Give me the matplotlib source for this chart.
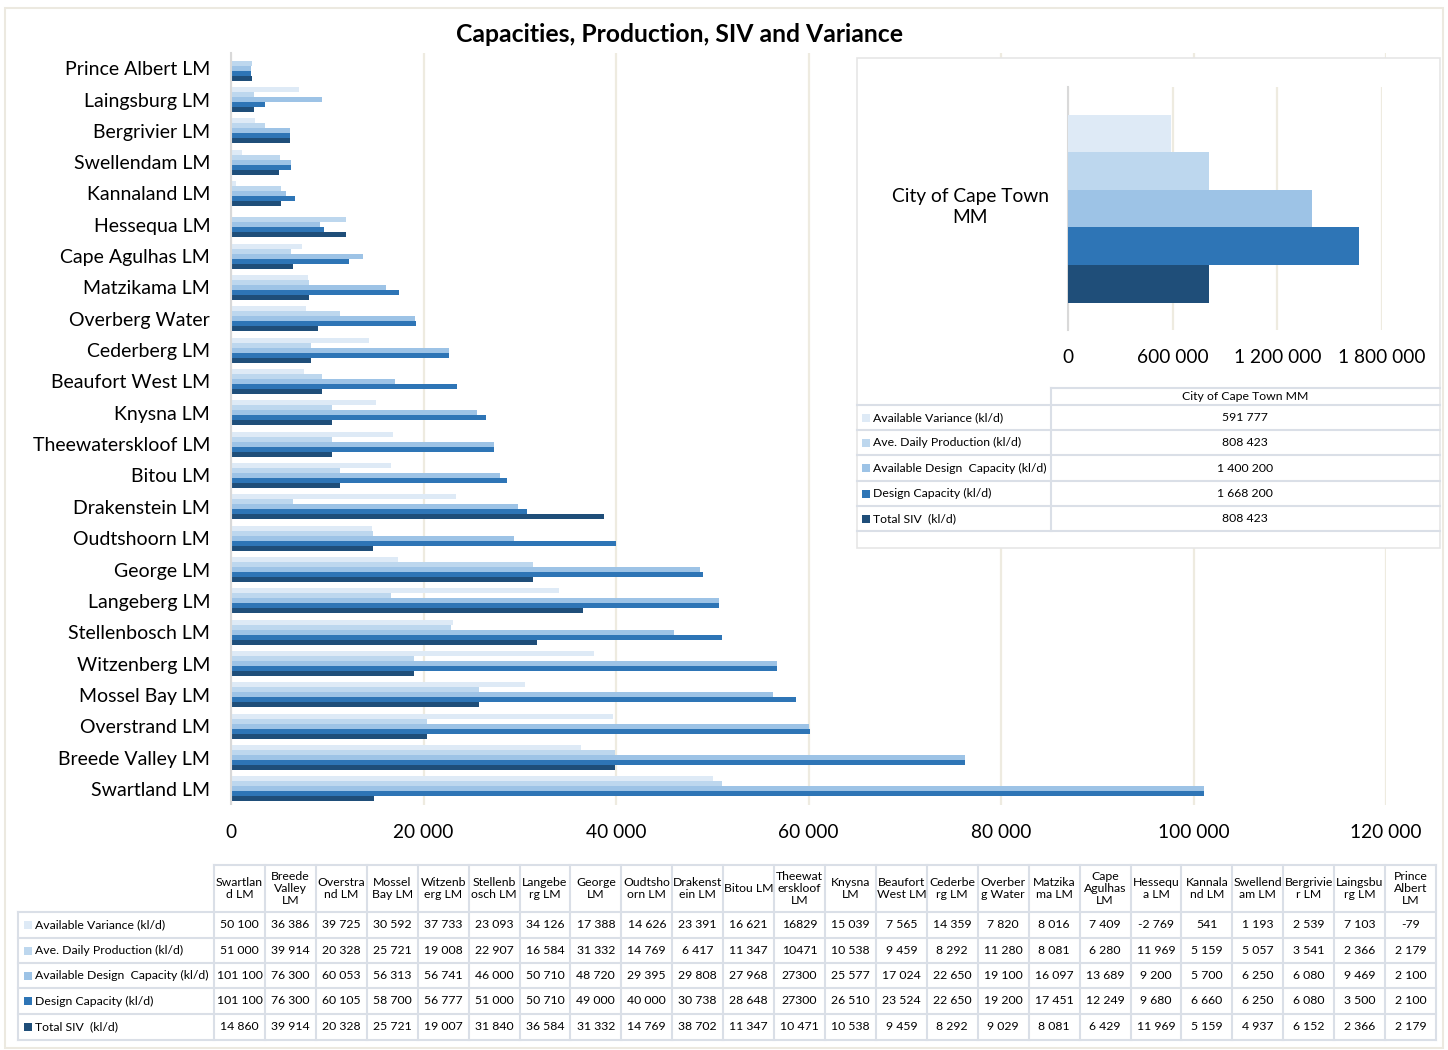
import matplotlib
matplotlib.use('Agg')
import matplotlib.pyplot as plt
from matplotlib.patches import Rectangle
from matplotlib.ticker import FuncFormatter
import numpy as np

plt.rcParams['font.family'] = ['Lato', 'DejaVu Sans']

# ---------------- data ----------------
categories = ["Swartland LM", "Breede Valley LM", "Overstrand LM", "Mossel Bay LM",
              "Witzenberg LM", "Stellenbosch LM", "Langeberg LM", "George LM",
              "Oudtshoorn LM", "Drakenstein LM", "Bitou LM", "Theewaterskloof LM",
              "Knysna LM", "Beaufort West LM", "Cederberg LM", "Overberg Water",
              "Matzikama LM", "Cape Agulhas LM", "Hessequa LM", "Kannaland LM",
              "Swellendam LM", "Bergrivier LM", "Laingsburg LM", "Prince Albert LM"]
table_headers = ["Swartlan\nd LM", "Breede\nValley\nLM", "Overstra\nnd LM", "Mossel\nBay LM",
                 "Witzenb\nerg LM", "Stellenb\nosch LM", "Langebe\nrg LM", "George\nLM",
                 "Oudtsho\norn LM", "Drakenst\nein LM", "Bitou LM", "Theewat\nerskloof\nLM",
                 "Knysna\nLM", "Beaufort\nWest LM", "Cederbe\nrg LM", "Overber\ng Water",
                 "Matzika\nma LM", "Cape\nAgulhas\nLM", "Hessequ\na LM", "Kannala\nnd LM",
                 "Swellend\nam LM", "Bergrivie\nr LM", "Laingsbu\nrg LM", "Prince\nAlbert\nLM"]

series_names = ["Available Variance (kl/d)", "Ave. Daily Production (kl/d)",
                "Available Design  Capacity (kl/d)", "Design Capacity (kl/d)", "Total SIV  (kl/d)"]

available_variance = [50100, 36386, 39725, 30592, 37733, 23093, 34126, 17388, 14626, 23391, 16621, 16829,
                      15039, 7565, 14359, 7820, 8016, 7409, -2769, 541, 1193, 2539, 7103, -79]
ave_daily_production = [51000, 39914, 20328, 25721, 19008, 22907, 16584, 31332, 14769, 6417, 11347, 10471,
                        10538, 9459, 8292, 11280, 8081, 6280, 11969, 5159, 5057, 3541, 2366, 2179]
available_design_capacity = [101100, 76300, 60053, 56313, 56741, 46000, 50710, 48720, 29395, 29808, 27968, 27300,
                             25577, 17024, 22650, 19100, 16097, 13689, 9200, 5700, 6250, 6080, 9469, 2100]
design_capacity = [101100, 76300, 60105, 58700, 56777, 51000, 50710, 49000, 40000, 30738, 28648, 27300,
                   26510, 23524, 22650, 19200, 17451, 12249, 9680, 6660, 6250, 6080, 3500, 2100]
total_siv = [14860, 39914, 20328, 25721, 19007, 31840, 36584, 31332, 14769, 38702, 11347, 10471,
             10538, 9459, 8292, 9029, 8081, 6429, 11969, 5159, 4937, 6152, 2366, 2179]

cape_town_label = "City of Cape Town MM"
cape_town_values = [591777, 808423, 1400200, 1668200, 808423]

main_ticks = [0, 20000, 40000, 60000, 80000, 100000, 120000]
inset_ticks = [0, 600000, 1200000, 1800000]

# cells shown without thousands separator in the source table (series index, column index)
plain_cells = {(0, 11), (1, 11), (2, 11), (3, 11)}

colors = ['#DEEAF6', '#BDD7EE', '#9DC3E6', '#2E75B6', '#1F4E79']
grid_c = '#EEEBE0'
border_c = '#DADFE7'

series = [available_variance, ave_daily_production, available_design_capacity,
          design_capacity, total_siv]


def fmt(v, plain=False):
    s = f"{abs(v):,}"
    s = s.replace(",", "" if plain else " ")
    return ("-" if v < 0 else "") + s


W, H = 1448, 1050
fig = plt.figure(figsize=(W / 100, H / 100), dpi=100)
fig.patch.set_facecolor('white')


def fx(px):
    return px / W


def fy(py):
    return 1 - py / H


# ---------------- main chart ----------------
ax = fig.add_axes([fx(231), fy(804.5), fx(1386) - fx(231), (804.5 - 52.5) / H], zorder=1)
n = len(categories)
y = np.arange(n)
h = 0.16
offsets = [2 * h, h, 0, -h, -2 * h]
for vals, off, c in zip(series, offsets, colors):
    ax.barh(y + off, vals, height=h * 0.97, color=c, edgecolor='none', zorder=3)
ax.set_xlim(main_ticks[0], main_ticks[-1])
ax.set_ylim(-0.5, n - 0.5)
ax.set_xticks(main_ticks)
ax.xaxis.set_major_formatter(FuncFormatter(lambda v, p: fmt(int(v))))
ax.set_yticks(y)
ax.set_yticklabels(categories, fontsize=14)
ax.tick_params(axis='y', length=0, pad=15)
ax.tick_params(axis='x', length=0, pad=14, labelsize=13.8)
for s in ['top', 'right', 'bottom']:
    ax.spines[s].set_visible(False)
ax.spines['left'].set_color('#D9D9D9')
ax.spines['left'].set_linewidth(1.5)
ax.spines['left'].set_zorder(4)
ax.grid(axis='x', color=grid_c, linewidth=1.6, zorder=0)
ax.set_axisbelow(True)

# title
fig.text(fx(680), fy(35), "Capacities, Production, SIV and Variance",
         ha='center', va='center', fontsize=17.8, fontweight='bold')

# ---------------- overlay for panels / tables ----------------
ov = fig.add_axes([0, 0, 1, 1], zorder=5)
ov.set_xlim(0, W)
ov.set_ylim(H, 0)
ov.axis('off')
ov.patch.set_alpha(0)

# outer border
ov.add_patch(Rectangle((5, 8), 1438, 1040, facecolor='none', edgecolor='#ECE9E0', lw=1.5))

# inset panel background
ov.add_patch(Rectangle((857, 58), 583, 490, facecolor='white', edgecolor='#E6E6E6', lw=1.2))

# ---------------- inset chart ----------------
ax2 = fig.add_axes([fx(1068), fy(330), fx(1382) - fx(1068), (330 - 87) / H], zorder=6)
ax2.patch.set_alpha(0)
ih = 188 / 243 / 5
ioff = [2 * ih, ih, 0, -ih, -2 * ih]
for v, off, c in zip(cape_town_values, ioff, colors):
    ax2.barh([off], [v], height=ih, color=c, edgecolor='none', zorder=3)
ax2.set_xlim(inset_ticks[0], inset_ticks[-1])
ax2.set_ylim(-0.5, 0.5)
ax2.set_xticks(inset_ticks)
ax2.xaxis.set_major_formatter(FuncFormatter(lambda v, p: fmt(int(v))))
ax2.set_yticks([])
ax2.tick_params(axis='x', length=0, pad=14, labelsize=13.8)
for s in ['top', 'right', 'bottom']:
    ax2.spines[s].set_visible(False)
ax2.spines['left'].set_color('#D9D9D9')
ax2.spines['left'].set_linewidth(1.5)
ax2.grid(axis='x', color=grid_c, linewidth=1.6, zorder=0)
ax2.set_axisbelow(True)
ov.text(970, 207, "City of Cape Town\nMM", ha='center', va='center', fontsize=13.8,
        linespacing=1.3)

# inset table
irows = [388, 405, 430, 455, 481, 506, 531]
for k, yy in enumerate(irows):
    x0 = 1051 if k == 0 else 857
    ov.plot([x0, 1440], [yy, yy], color=border_c, lw=1.5, zorder=7)
ov.plot([1051, 1051], [388, 531], color=border_c, lw=1.5, zorder=7)
ov.text(1245, (388 + 405) / 2, cape_town_label, ha='center', va='center', fontsize=8.8, zorder=8)
for k in range(5):
    yc = (irows[k + 1] + irows[k + 2]) / 2
    ov.add_patch(Rectangle((862, yc - 4), 8, 8, facecolor=colors[k], edgecolor='none', zorder=8))
    ov.text(873, yc, series_names[k], ha='left', va='center', fontsize=8.8, zorder=8)
    ov.text(1245, yc, fmt(cape_town_values[k]), ha='center', va='center', fontsize=8.8, zorder=8)

# ---------------- bottom data table ----------------
tx0, tx1 = 214, 1436
lx0 = 18
cw = (tx1 - tx0) / n
rows_y = [865, 912, 938, 963, 988, 1014, 1040]
# horizontal lines
ov.plot([tx0, tx1], [rows_y[0], rows_y[0]], color=border_c, lw=1.5)
for yy in rows_y[1:]:
    ov.plot([lx0, tx1], [yy, yy], color=border_c, lw=1.5)
# vertical lines
ov.plot([lx0, lx0], [rows_y[1], rows_y[-1]], color=border_c, lw=1.5)
for j in range(n + 1):
    xx = tx0 + j * cw
    ov.plot([xx, xx], [rows_y[0], rows_y[-1]], color=border_c, lw=1.5)
# headers
for j, lab in enumerate(table_headers):
    ov.text(tx0 + (j + 0.5) * cw, (rows_y[0] + rows_y[1]) / 2, lab, ha='center', va='center',
            fontsize=8.8, linespacing=1.15)
# rows
for k in range(5):
    yc = (rows_y[k + 1] + rows_y[k + 2]) / 2
    ov.add_patch(Rectangle((24, yc - 4), 8, 8, facecolor=colors[k], edgecolor='none'))
    ov.text(35, yc, series_names[k], ha='left', va='center', fontsize=8.8)
    for j in range(n):
        ov.text(tx0 + (j + 0.5) * cw, yc, fmt(series[k][j], (k, j) in plain_cells),
                ha='center', va='center', fontsize=8.8)

fig.savefig('out.png', dpi=100, facecolor='white')
